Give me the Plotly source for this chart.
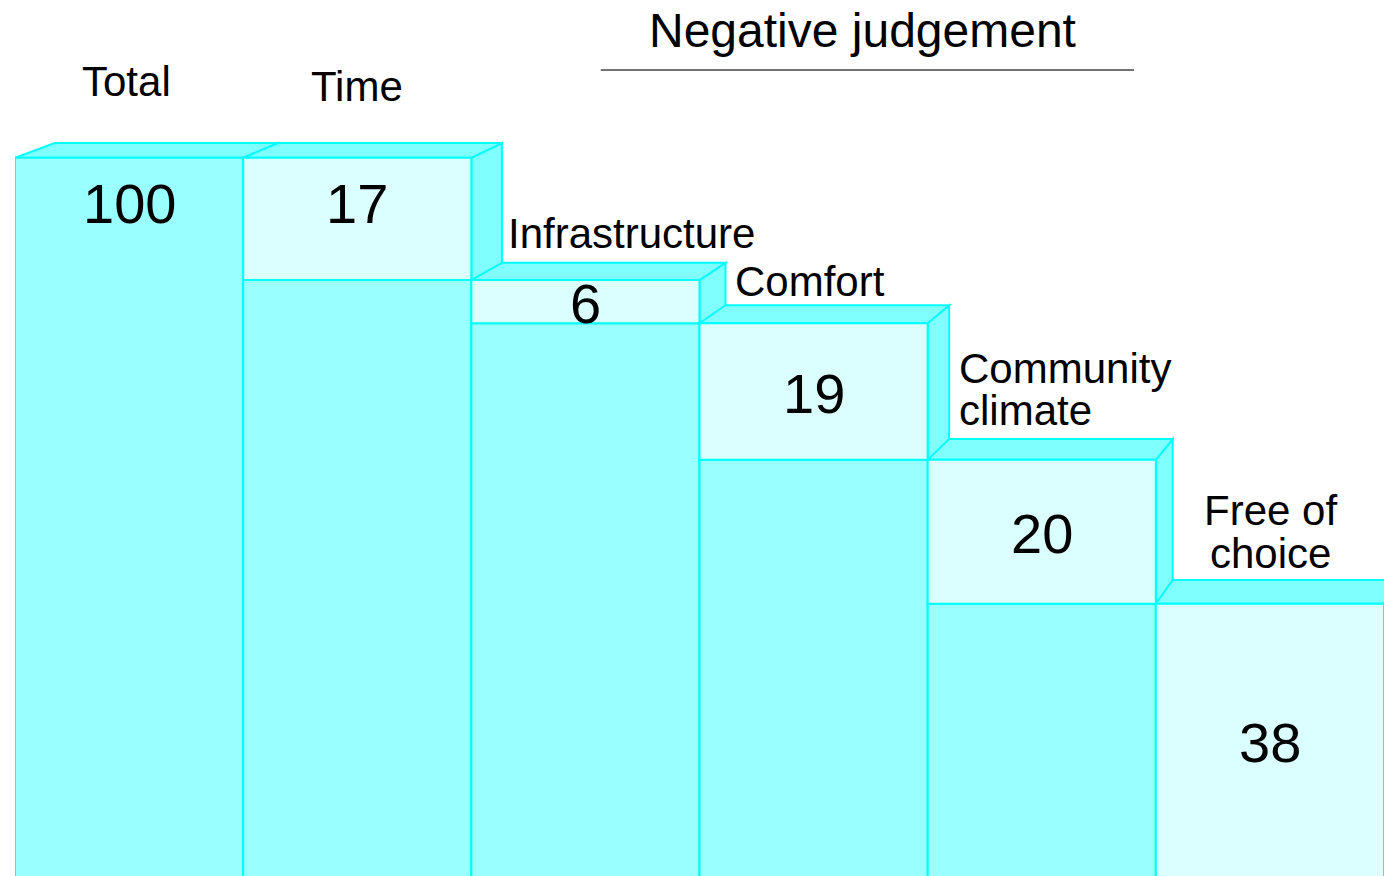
import plotly.graph_objects as go

# ---------------- data ----------------
categories = ["Total", "Time", "Infrastructure", "Comfort", "Community\nclimate", "Free of\nchoice"]
values = [100, 17, 6, 19, 20, 38]
title_text = "Negative judgement"

# ---------------- style ----------------
W, H = 1386, 876
ML, MR, MT, MB = 15, 2, 0, 0
Y_RANGE = [0.14, 121.94]
X_RANGE = [0, 6]
C_LIGHT = "#DBFFFF"
C_MED = "#99FFFF"
C_TOP = "#80FFFF"
C_EDGE = "#00FFFF"
FONT = "Liberation Sans, Arial, Helvetica, sans-serif"
VP = (8.70, 202.6)      # vanishing point (data coords)
DEPTH = 0.02            # perspective depth factor
BOTTOM = -20

# label placement style: (xanchor, xshift, yshift of block centre, line spacing)
label_style = [
    ("center", -3, 76, 42),
    ("center", 0, 71, 42),
    ("left", 36, 47, 42),
    ("left", 34, 42, 42),
    ("left", 30, 70, 42),
    ("center", 1, 71.5, 43),
]
num_pos = ["top", "top", "mid", "mid", "mid", "mid"]


def back(x, y):
    return (x + DEPTH * (VP[0] - x), y + DEPTH * (VP[1] - y))


def path(pts):
    return "M " + " L ".join(f"{x:.4f},{y:.4f}" for x, y in pts) + " Z"


shapes = []
annotations = []


def poly(pts, fill):
    shapes.append(dict(type="path", path=path(pts), xref="x", yref="y",
                       fillcolor=fill, line=dict(color=C_EDGE, width=2), layer="above"))


# compute stacked geometry
tops, bottoms = [], []
remaining = values[0]
for i, v in enumerate(values):
    if i == 0:
        tops.append(v)
        bottoms.append(BOTTOM)
    else:
        tops.append(remaining)
        bottoms.append(remaining - v)
        remaining -= v

for i, v in enumerate(values):
    xl, xr = i, i + 1
    top, seg_bot = tops[i], bottoms[i]
    # right side face
    poly([(xr, top), back(xr, top), back(xr, BOTTOM), (xr, BOTTOM)], C_TOP)
    # top face
    poly([(xl, top), (xr, top), back(xr, top), back(xl, top)], C_TOP)
    if i == 0:
        poly([(xl, top), (xr, top), (xr, BOTTOM), (xl, BOTTOM)], C_MED)
    else:
        if seg_bot > 0:
            poly([(xl, seg_bot), (xr, seg_bot), (xr, BOTTOM), (xl, BOTTOM)], C_MED)
            lo = seg_bot
        else:
            lo = BOTTOM
        poly([(xl, top), (xr, top), (xr, lo), (xl, lo)], C_LIGHT)

    # value label
    xc = (xl + xr) / 2
    if num_pos[i] == "top":
        ny, nshift = top, -46
    else:
        ny, nshift = (top + max(seg_bot, 0)) / 2, -2
    annotations.append(dict(x=xc, y=ny, xref="x", yref="y", text=str(v), showarrow=False,
                            yshift=nshift, yanchor="middle", xanchor="center",
                            font=dict(family=FONT, size=56, color="black")))

    # category label (one annotation per line)
    anchor, xs, ys, sp = label_style[i]
    lines = categories[i].split("\n")
    n = len(lines)
    for j, line in enumerate(lines):
        off = ys + (n - 1) / 2 * sp - j * sp
        annotations.append(dict(x=(xl if anchor == "left" else xc), y=top, xref="x", yref="y",
                                text=line, showarrow=False, xanchor=anchor, yanchor="middle",
                                xshift=xs, yshift=off, borderpad=0,
                                font=dict(family=FONT, size=42, color="black")))

# group title and rule
annotations.append(dict(x=858 / W, y=1 - 30 / H, xref="paper", yref="paper", text=title_text,
                        showarrow=False, xanchor="center", yanchor="middle",
                        font=dict(family=FONT, size=48, color="black")))
shapes.append(dict(type="line", xref="paper", yref="paper", x0=593 / W, x1=1133 / W,
                   y0=1 - 70 / H, y1=1 - 70 / H, line=dict(color="#444444", width=1.3)))

fig = go.Figure()
fig.add_trace(go.Scatter(x=[0, 6], y=[0, 100], mode="markers", marker=dict(opacity=0),
                         hoverinfo="skip", showlegend=False))
fig.update_layout(
    width=W, height=H,
    margin=dict(l=ML, r=MR, t=MT, b=MB, pad=0),
    paper_bgcolor="white", plot_bgcolor="white",
    xaxis=dict(range=X_RANGE, visible=False, fixedrange=True),
    yaxis=dict(range=Y_RANGE, visible=False, fixedrange=True),
    shapes=shapes, annotations=annotations, showlegend=False,
)
fig.write_html("out.html", config={"displayModeBar": False},
               post_script="document.body.style.margin='0';document.body.style.overflow='hidden';")
